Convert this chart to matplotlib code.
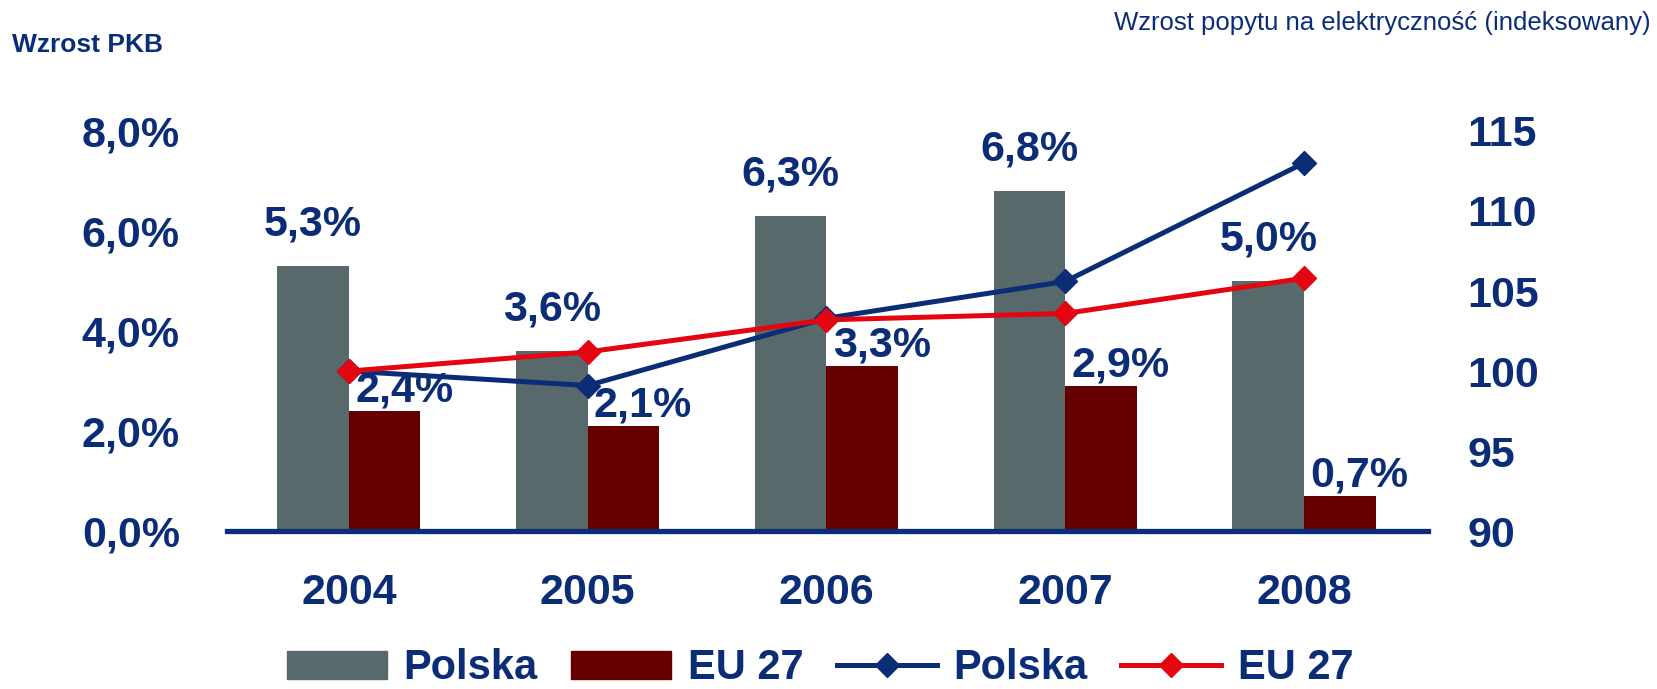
import matplotlib
matplotlib.use("Agg")
import matplotlib.pyplot as plt
from matplotlib.lines import Line2D
from matplotlib.patches import Patch
import numpy as np

plt.rcParams['font.family'] = ['Liberation Sans', 'DejaVu Sans']

# dane
years = ['2004', '2005', '2006', '2007', '2008']
gdp_pl = [5.3, 3.6, 6.3, 6.8, 5.0]
gdp_eu = [2.4, 2.1, 3.3, 2.9, 0.7]
elec_pl = [100.0, 99.1, 103.3, 105.6, 113.0]
elec_eu = [100.0, 101.2, 103.2, 103.6, 105.8]

NAVY = '#0b2d77'
GREY = '#58696b'
DARKRED = '#660000'
RED = '#e30611'

def pct(v):
    return f"{v:.1f}".replace('.', ',') + '%'

fig = plt.figure(figsize=(16.57, 6.89), dpi=100)
ax = fig.add_axes([0.137, 0.229, 0.725, 0.581])
ax2 = ax.twinx()

x = np.arange(len(years))
w = 0.3
ax.bar(x - w / 2, gdp_pl, w, color=GREY, zorder=2)
ax.bar(x + w / 2, gdp_eu, w, color=DARKRED, zorder=2)

ax.set_xlim(-0.51, 4.52)
ax.set_ylim(0, 8)
ax.set_yticks([0, 2, 4, 6, 8])
ax.set_yticklabels([pct(v) for v in [0, 2, 4, 6, 8]])
ax.set_xticks(x)
ax.set_xticklabels(years)

ax2.plot(x, elec_pl, color=NAVY, lw=3.6, marker='D', ms=12, zorder=3)
ax2.plot(x, elec_eu, color=RED, lw=3.6, marker='D', ms=12, zorder=3)
ax2.set_ylim(90, 115)
ax2.set_yticks([90, 95, 100, 105, 110, 115])

for a in (ax, ax2):
    for s in a.spines.values():
        s.set_visible(False)
    a.tick_params(length=0, labelsize=31, labelcolor=NAVY)
    for lab in a.get_xticklabels() + a.get_yticklabels():
        lab.set_fontweight('bold')
ax.tick_params(axis='y', pad=34)
ax.tick_params(axis='x', pad=30)
ax2.tick_params(axis='y', pad=28)
ax2.axhline(90, color=NAVY, lw=3.8, zorder=4, clip_on=False)

# etykiety wartości (na osi ax2, żeby były nad liniami)
for i, v in enumerate(gdp_pl):
    ax2.annotate(pct(v), xy=(x[i] - w / 2, v), xycoords=ax.transData,
                 xytext=(0, 30), textcoords='offset points',
                 ha='center', va='center', fontsize=31, fontweight='bold',
                 color=NAVY, annotation_clip=False)
for i, v in enumerate(gdp_eu):
    ax2.annotate(pct(v), xy=(x[i] + w / 2, v), xycoords=ax.transData,
                 xytext=(14, 15), textcoords='offset points',
                 ha='center', va='center', fontsize=31, fontweight='bold',
                 color=NAVY, annotation_clip=False)

fig.text(0.007, 0.934, 'Wzrost PKB', fontsize=19, fontweight='bold',
         color=NAVY, ha='left', va='center')
fig.text(0.996, 0.967, 'Wzrost popytu na elektryczność (indeksowany)',
         fontsize=18.5, color=NAVY, ha='right', va='center')

handles = [Patch(color=GREY), Patch(color=DARKRED),
           Line2D([], [], color=NAVY, lw=3.6, marker='D', ms=12),
           Line2D([], [], color=RED, lw=3.6, marker='D', ms=12)]
leg = fig.legend(handles, ['Polska', 'EU 27', 'Polska', 'EU 27'],
                 loc='center', bbox_to_anchor=(0.495, 0.03), ncol=4,
                 frameon=False, handlelength=2.4, handleheight=0.65,
                 columnspacing=0.8, handletextpad=0.4,
                 borderpad=0.1, prop={'size': 30, 'weight': 'bold'})
for t in leg.get_texts():
    t.set_color(NAVY)

fig.savefig('out.png', dpi=100)
